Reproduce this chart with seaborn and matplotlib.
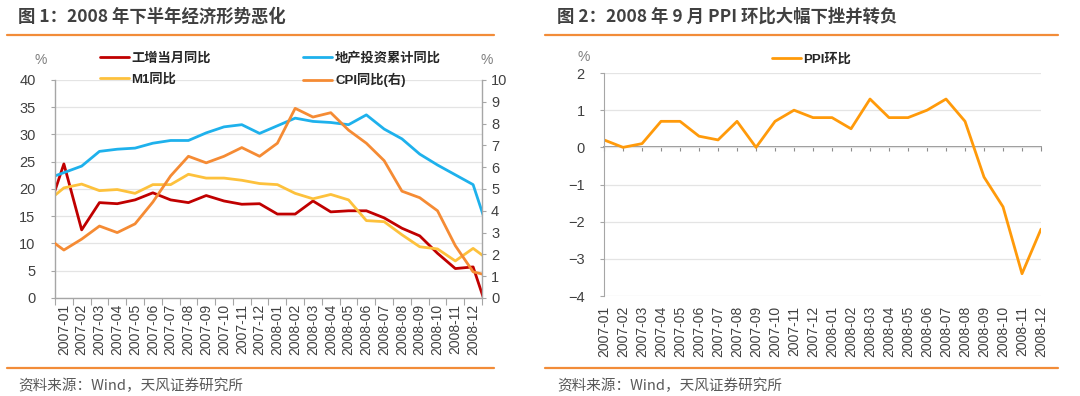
# 2008年宏观数据：工增、地产投资、M1、CPI 以及 PPI 环比
import numpy as np
import pandas as pd
import seaborn as sns
import matplotlib.pyplot as plt
from matplotlib.lines import Line2D

# 月份（左图首尾各多一个月，画线时被坐标轴裁掉）
months = ['2006-12'] + [f'2007-{m:02d}' for m in range(1, 13)] + \
         [f'2008-{m:02d}' for m in range(1, 13)] + ['2009-01', '2009-02']
tick_labels = months[1:25]

# 左图数据（%）
gz_dy = [14.8, 24.6, 12.5, 17.5, 17.3, 18.0, 19.3, 18.0, 17.5, 18.8, 17.8, 17.2, 17.3,
         15.4, 15.4, 17.8, 15.8, 16.0, 16.0, 14.7, 12.8, 11.4, 8.2, 5.4, 5.7, -4.1, np.nan]
dc_tz = [21.8, np.nan, 24.2, 26.9, 27.3, 27.5, 28.4, 28.9, 28.9, 30.3, 31.4, 31.8, 30.2,
         np.nan, 33.0, 32.4, 32.2, 31.8, 33.6, 31.0, 29.2, 26.4, 24.4, 22.6, 20.8, np.nan, 1.0]
m1 = [17.5, 20.2, 20.9, 19.7, 19.9, 19.2, 20.8, 20.8, 22.7, 22.0, 22.0, 21.6, 21.0,
      20.8, 19.2, 18.2, 19.0, 18.0, 14.2, 14.0, 11.6, 9.4, 9.0, 6.8, 9.1, 6.7, np.nan]
cpi = [2.8, 2.2, 2.7, 3.3, 3.0, 3.4, 4.4, 5.6, 6.5, 6.2, 6.5, 6.9, 6.5,
       7.1, 8.7, 8.3, 8.5, 7.7, 7.1, 6.3, 4.9, 4.6, 4.0, 2.4, 1.2, 1.0, np.nan]

# 右图数据（%）
ppi_hb = [0.2, 0.0, 0.1, 0.7, 0.7, 0.3, 0.2, 0.7, 0.0, 0.7, 1.0, 0.8,
          0.8, 0.5, 1.3, 0.8, 0.8, 1.0, 1.3, 0.7, -0.8, -1.6, -3.4, -2.2]

culori = {'工增当月同比': '#C00000', '地产投资累计同比': '#1EB1EC',
          'M1同比': '#FDC13C', 'CPI同比(右)': '#F58B34'}
c_ppi = '#FF9A0A'
gri = '#A6A6A6'
txt = '#404040'

sns.set_style('white')
plt.rcParams['font.family'] = ['Liberation Sans', 'Noto Sans CJK SC', 'DejaVu Sans']
plt.rcParams['axes.unicode_minus'] = True

fig = plt.figure(figsize=(10.8, 3.96), dpi=100)

# ---------- 图1 ----------
ax = fig.add_axes([0.0509, 0.2475, 0.3954, 0.5505])
df = pd.DataFrame({'月份': months, 'x': np.arange(len(months)) - 0.5,
                   '工增当月同比': gz_dy, '地产投资累计同比': dc_tz, 'M1同比': m1,
                   'CPI同比(右)': cpi})
df_long = df.melt(id_vars=['月份', 'x'], var_name='指标', value_name='值').dropna()
left_df = df_long[df_long['指标'] != 'CPI同比(右)']
sns.lineplot(data=left_df, x='x', y='值', hue='指标', palette=culori, lw=2,
             ax=ax, legend=False)
ax2 = ax.twinx()
sns.lineplot(data=df_long[df_long['指标'] == 'CPI同比(右)'], x='x', y='值',
             color=culori['CPI同比(右)'], lw=2, ax=ax2, legend=False)

ax.set_xlim(0, 24)
ax.set_ylim(0, 40)
ax2.set_ylim(0, 10)
ax.set_yticks(np.arange(0, 41, 5))
ax2.set_yticks(np.arange(0, 11, 1))
ax.set_xticks(np.arange(0, 25))
ax.set_xticklabels([])
ax.set_xticks(np.arange(24) + 0.5, minor=True)
ax.set_xticklabels(tick_labels, minor=True, rotation=90)
ax.tick_params(axis='x', which='major', length=5, color=gri, direction='out', bottom=True)
ax.tick_params(axis='x', which='minor', length=0, pad=4, labelsize=10, labelcolor=txt)
ax.tick_params(axis='y', length=3, color=gri, left=True, labelsize=10.5, labelcolor=txt, pad=11)
ax2.tick_params(axis='y', length=3, color=gri, right=True, labelsize=10.5, labelcolor=txt, pad=3.5)
ax.set_xlabel('')
ax.set_ylabel('')
ax2.set_ylabel('')
ax.yaxis.grid(True, color='#E4E4E4', lw=0.9)
ax.set_axisbelow(True)
for s in ['top', 'right']:
    ax.spines[s].set_visible(False)
for s in ['top', 'left', 'bottom']:
    ax2.spines[s].set_visible(False)
for sp in [ax.spines['left'], ax.spines['bottom'], ax2.spines['right']]:
    sp.set_color(gri)
    sp.set_linewidth(1)

ax.text(-0.033, 1.092, '%', transform=ax.transAxes, ha='center', va='center',
        fontsize=10, color='#7F7F7F')
ax.text(1.01, 1.092, '%', transform=ax.transAxes, ha='center', va='center',
        fontsize=10, color='#7F7F7F')

ordine = ['工增当月同比', 'M1同比', '地产投资累计同比', 'CPI同比(右)']
handles = [Line2D([], [], color=culori[k], lw=2) for k in ordine]
ax.legend(handles, ordine, ncol=2, loc='upper left', bbox_to_anchor=(0.105, 1.13),
          frameon=False, borderpad=0, borderaxespad=0, handlelength=2.2,
          handletextpad=0.2, columnspacing=7.0, labelspacing=0.65,
          prop={'weight': 'bold', 'size': 9.5})

# ---------- 图2 ----------
axr = fig.add_axes([0.5593, 0.2525, 0.4046, 0.5631])
ppi_df = pd.DataFrame({'月份': tick_labels, 'x': np.arange(len(tick_labels)), 'PPI环比': ppi_hb})
sns.lineplot(data=ppi_df, x='x', y='PPI环比', color=c_ppi, lw=2, ax=axr, legend=False)
axr.set_xlim(0, 23)
axr.set_ylim(-4, 2)
axr.set_yticks(np.arange(-4, 3))
axr.set_xticks(ppi_df['x'])
axr.set_xticklabels(tick_labels, rotation=90)
axr.tick_params(axis='x', length=0, pad=7, labelsize=10, labelcolor=txt)
axr.tick_params(axis='y', length=3, color=gri, left=True, labelsize=10.5, labelcolor=txt, pad=11)
axr.set_xlabel('')
axr.set_ylabel('')
axr.yaxis.grid(True, color='#E4E4E4', lw=0.9)
axr.set_axisbelow(True)
for s in ['top', 'right', 'bottom']:
    axr.spines[s].set_visible(False)
axr.spines['left'].set_color(gri)

# 零轴及刻度
zero = axr.secondary_xaxis(2 / 3)
zero.set_alignment('bottom')
zero.set_xticks(ppi_df['x'])
zero.tick_params(axis='x', length=3, color='#8C8C8C', direction='out', labelbottom=False,
                 labeltop=False)
for s in zero.spines.values():
    s.set_color('#8C8C8C')
    s.set_linewidth(1.3)

axr.text(-0.046, 1.072, '%', transform=axr.transAxes, ha='center', va='center',
         fontsize=10, color='#7F7F7F')
axr.legend([Line2D([], [], color=c_ppi, lw=2)], ['PPI环比'], loc='upper left',
           bbox_to_anchor=(0.384, 1.087), frameon=False, borderpad=0, borderaxespad=0,
           handlelength=2.2, handletextpad=0.2, prop={'weight': 'bold', 'size': 9.5})

# ---------- 标题、分隔线、资料来源 ----------
portocaliu = '#F28C38'
cjk = ['Noto Sans CJK SC', 'DejaVu Sans']
fig.text(18 / 1080, 1 - 17 / 396, '图 1：2008 年下半年经济形势恶化', fontsize=12.5,
         fontweight='bold', color=txt, va='center', family=cjk)
fig.text(557 / 1080, 1 - 17 / 396, '图 2：2008 年 9 月 PPI 环比大幅下挫并转负', fontsize=12.5,
         fontweight='bold', color=txt, va='center', family=cjk)
for x0, x1 in [(7, 494), (545, 1058)]:
    for yy in [35, 368]:
        fig.add_artist(Line2D([x0 / 1080, x1 / 1080], [1 - yy / 396] * 2,
                              color=portocaliu, lw=1.6))
for x0 in [18, 557]:
    fig.text(x0 / 1080, 1 - 386 / 396, '资料来源：Wind，天风证券研究所', fontsize=10.5,
             color='#595959', va='center', family=cjk)

plt.savefig('out.png', dpi=100, facecolor='white')
